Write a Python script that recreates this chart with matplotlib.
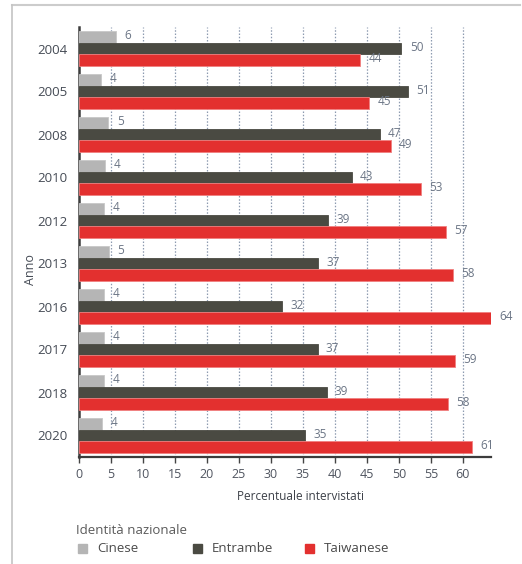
import matplotlib
matplotlib.use("Agg")
import matplotlib.pyplot as plt
from matplotlib.lines import Line2D
from matplotlib.patches import Rectangle
import numpy as np

plt.rcParams['font.family'] = ['Open Sans', 'DejaVu Sans']

years = ["2004", "2005", "2008", "2010", "2012", "2013", "2016", "2017", "2018", "2020"]
cinese = [5.8, 3.5, 4.6, 4.1, 3.9, 4.7, 3.9, 3.9, 3.9, 3.6]
entrambe = [50.4, 51.4, 47.0, 42.6, 38.9, 37.4, 31.7, 37.3, 38.7, 35.3]
taiwanese = [44.0, 45.4, 48.7, 53.4, 57.4, 58.4, 64.4, 58.8, 57.7, 61.4]
series_names = ["Cinese", "Entrambe", "Taiwanese"]
colors = ["#b5b5b5", "#4a4a42", "#e3302f"]
edge_colors = ["#c8c8c8", "#4a4a42", "#f08080"]
xticks = list(range(0, 65, 5))

fig = plt.figure(figsize=(5.22, 5.64), dpi=100)
ax = fig.add_axes([79/522, 1-457/564, (491-79)/522, (457-27)/564])

n = len(years)
y = np.arange(n)
h = 0.264
offsets = [-h, 0, h]
data = [cinese, entrambe, taiwanese]
label_col = "#6b7585"
for s, (vals, c, ec, off) in enumerate(zip(data, colors, edge_colors, offsets)):
    ax.barh(y + off, vals, height=h, color=c, edgecolor=ec, linewidth=0.6, zorder=3)
    for yi, v in zip(y, vals):
        ax.text(v + 1.3, yi + off - 0.03, f"{round(v)}", va="center", ha="left",
                fontsize=8.5, color=label_col, zorder=4)

ax.set_xlim(0, 64.4)
ax.set_ylim(n - 0.5, -0.5)
ax.set_yticks(y)
ax.set_yticklabels(years, fontsize=9.5, color="#454b55")
ax.set_xticks(xticks)
ax.set_xticklabels([str(t) for t in xticks], fontsize=9, color="#505560")
ax.tick_params(axis="y", length=0, pad=8)
ax.tick_params(axis="x", length=4, width=1, color="#444444", pad=4)

for t in xticks[1:]:
    ax.axvline(t, color="#8d9bb0", linestyle=(0, (1.2, 1.4)), linewidth=0.9, zorder=1)

for sp in ["top", "right"]:
    ax.spines[sp].set_visible(False)
ax.spines["left"].set_color("#3c3c3c")
ax.spines["left"].set_linewidth(1.8)
ax.spines["bottom"].set_color("#3c3c3c")
ax.spines["bottom"].set_linewidth(1.6)

fig.text(30/522, 1-270/564, "Anno", rotation=90, ha="center", va="center",
         fontsize=9, color="#454b55")
fig.text(300/522, 1-496/564, "Percentuale intervistati", ha="center", va="center",
         fontsize=8.5, color="#3c4048")

fig.text(76/522, 1-531/564, "Identità nazionale", ha="left", va="center",
         fontsize=9.5, color="#5a5a5a")
leg_x = [78, 193, 305]
for lx, name, c in zip(leg_x, series_names, colors):
    fig.patches.append(Rectangle((lx/522, 1-553/564), 9/522, 9/564,
                                 transform=fig.transFigure, color=c, figure=fig))
    fig.text((lx + 19)/522, 1-549/564, name, ha="left", va="center",
             fontsize=9.5, color="#4a4a4a")

# frame lines
fig.add_artist(Line2D([11.5/522, 520/522], [1-5/564, 1-5/564], transform=fig.transFigure,
                      color="#cccccc", linewidth=1.5))
fig.add_artist(Line2D([11.5/522, 11.5/522], [1-5/564, 0], transform=fig.transFigure,
                      color="#c4c4c4", linewidth=1.2))

fig.savefig("out.png", dpi=100)
